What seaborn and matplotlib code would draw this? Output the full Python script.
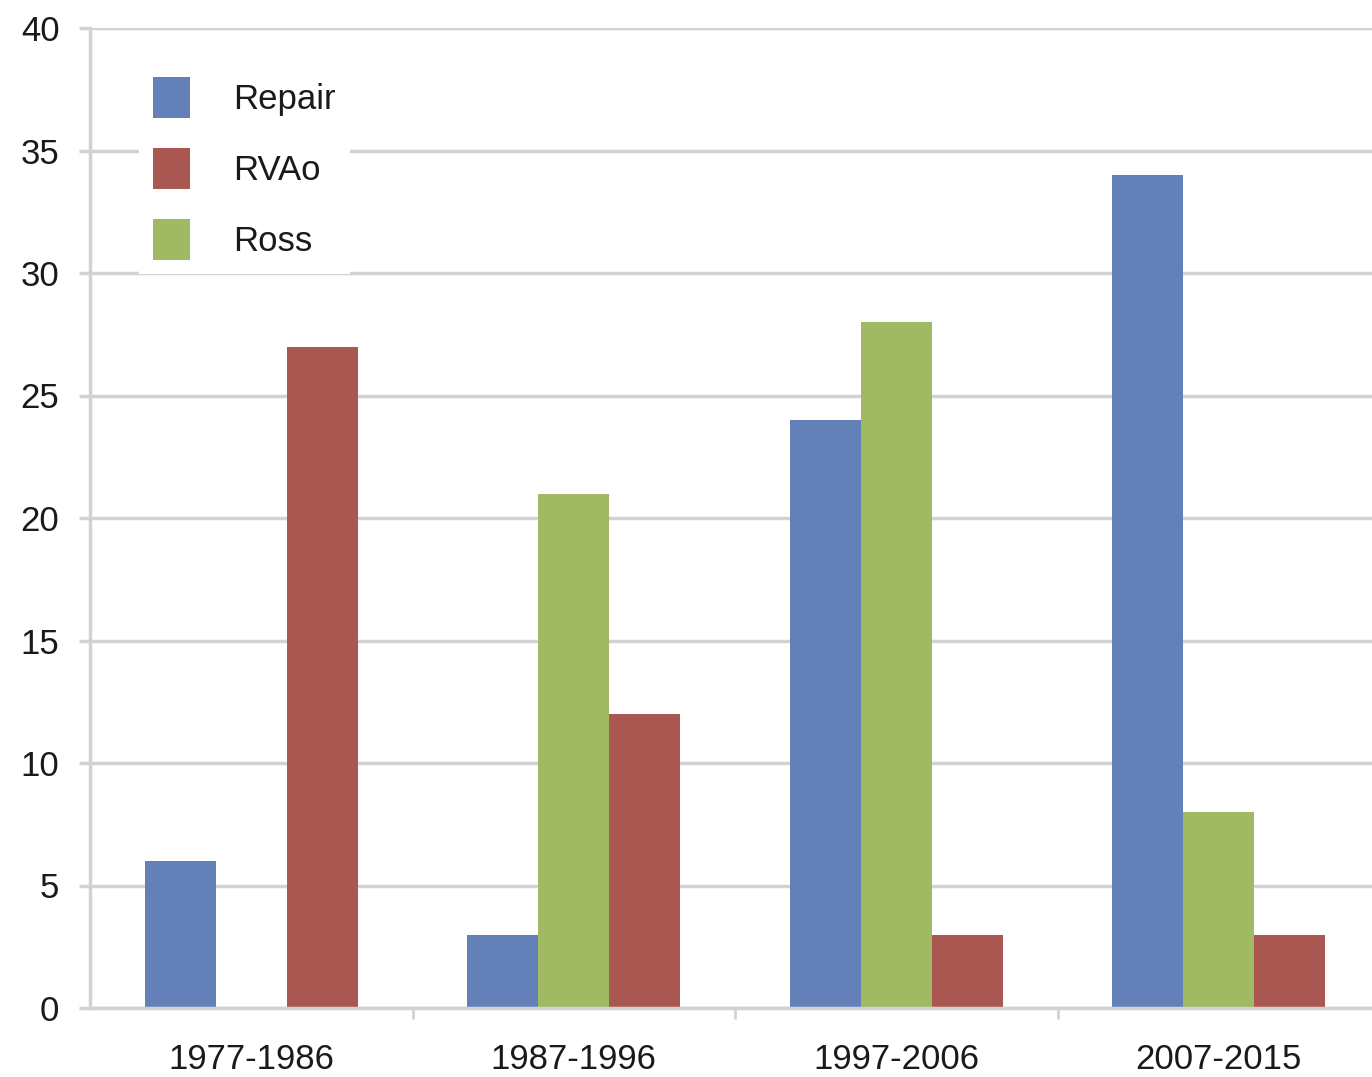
import matplotlib
matplotlib.use("Agg")
import matplotlib.pyplot as plt
import seaborn as sns
import pandas as pd
from matplotlib.patches import Patch

# Surgical procedure counts per era
periods = ["1977-1986", "1987-1996", "1997-2006", "2007-2015"]
repair = [6, 3, 24, 34]
ross = [0, 21, 28, 8]
rvao = [27, 12, 3, 3]

series_order = ["Repair", "Ross", "RVAo"]
legend_order = ["Repair", "RVAo", "Ross"]
colors = {"Repair": "#6380B8", "Ross": "#A0BA63", "RVAo": "#AA5651"}
yticks = [0, 5, 10, 15, 20, 25, 30, 35, 40]

df = pd.DataFrame({
    "Period": periods * 3,
    "Procedure": ["Repair"] * 4 + ["Ross"] * 4 + ["RVAo"] * 4,
    "Count": repair + ross + rvao,
})

sns.set_theme(style="white")
plt.rcParams["font.family"] = ["Liberation Sans", "DejaVu Sans"]

W, H = 1372, 1077
fig = plt.figure(figsize=(W / 100, H / 100), dpi=100)
ax = fig.add_axes([90 / W, 69 / H, 1290 / W, 980 / H])

sns.barplot(data=df, x="Period", y="Count", hue="Procedure",
            hue_order=series_order, order=periods, palette=colors,
            width=0.66, linewidth=0, saturation=1, ax=ax, legend=False)

grid_c = "#D2D2D2"
text_c = "#1A1A1A"
ax.set_ylim(0, 40)
ax.set_xlim(-0.5, 3.5)
ax.set_yticks(yticks)
ax.yaxis.grid(True, color=grid_c, linewidth=2.5)
ax.set_axisbelow(True)
ax.set_xlabel("")
ax.set_ylabel("")

for s in ["top", "right"]:
    ax.spines[s].set_visible(False)
for s in ["left", "bottom"]:
    ax.spines[s].set_color(grid_c)
    ax.spines[s].set_linewidth(2.5)

ax.tick_params(axis="y", length=8, width=2.5, color=grid_c, pad=14,
               labelsize=25, labelcolor=text_c, left=True)
ax.tick_params(axis="x", which="major", length=0, pad=25,
               labelsize=25, labelcolor=text_c)
ax.set_xticks([0.5, 1.5, 2.5], minor=True)
ax.tick_params(axis="x", which="minor", length=8, width=2, color=grid_c,
               bottom=True)

handles = [Patch(facecolor=colors[k], edgecolor="none") for k in legend_order]
leg = ax.legend(handles, legend_order, loc="upper left",
                bbox_to_anchor=(122 / W, 1 - 46 / H),
                bbox_transform=fig.transFigure,
                fontsize=25, frameon=True, facecolor="white",
                edgecolor="none", framealpha=1, fancybox=False,
                handlelength=1.05, handleheight=1.45, handletextpad=1.25,
                labelspacing=0.85, borderpad=0.4)
for t in leg.get_texts():
    t.set_color(text_c)

fig.savefig("out.png", dpi=100)
